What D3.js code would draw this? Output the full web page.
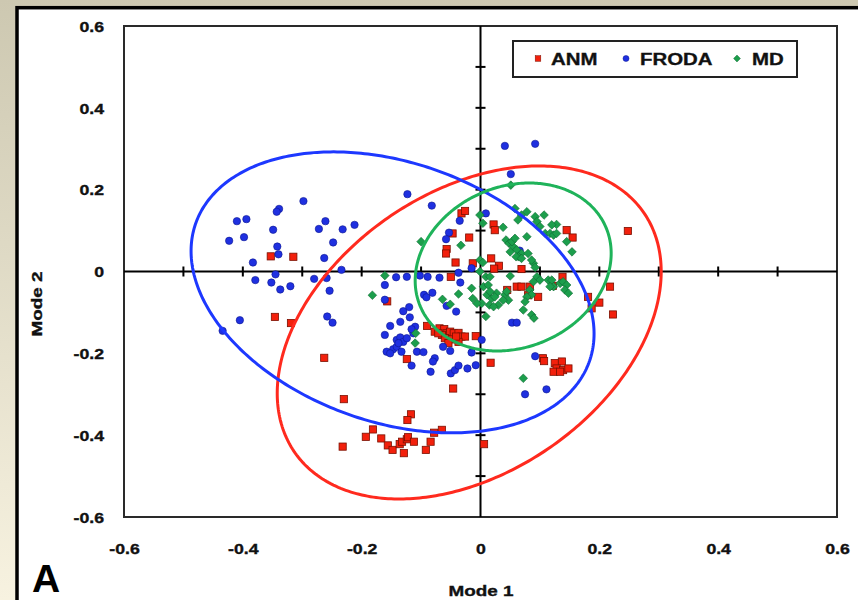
<!DOCTYPE html>
<html>
<head>
<meta charset="utf-8">
<script src="https://cdn.jsdelivr.net/npm/d3@7"></script>
<style>
  html, body { margin: 0; padding: 0; background: #fff; }
  svg { display: block; }
</style>
</head>
<body>
<svg id="chart" width="858" height="600"></svg>
<script>
// ---- data ----------------------------------------------------------------
const seriesNames = ["ANM", "FRODA", "MD"];

// Mode 1 / Mode 2 scores per sample
const anm = [
  [-0.353,0.037],[-0.315,0.036],[-0.346,-0.111],[-0.319,-0.126],[-0.263,-0.211],[-0.124,-0.214],[-0.157,-0.073],[-0.032,0.142],[-0.026,0.148],[0.022,0.115],
  [0.024,0.101],[-0.047,0.093],[-0.019,0.083],[-0.057,0.055],[-0.058,0.044],[-0.042,0.022],[-0.013,0.020],[0.018,0.032],[0.031,0.014],[0.023,0.007],
  [-0.050,-0.013],[0.069,0.006],[0.045,-0.045],[0.061,-0.037],[0.069,-0.037],[0.080,-0.058],[0.097,-0.062],[0.122,-0.035],[0.138,-0.013],[0.145,0.101],
  [0.155,0.083],[0.248,0.099],[0.218,-0.037],[0.181,-0.062],[0.200,-0.076],[0.187,-0.090],[0.223,-0.105],[-0.090,-0.133],[-0.077,-0.147],[-0.069,-0.139],
  [-0.061,-0.141],[-0.057,-0.151],[-0.051,-0.147],[-0.045,-0.151],[-0.037,-0.150],[-0.032,-0.159],[-0.026,-0.159],[-0.065,-0.155],[-0.060,-0.163],[-0.048,-0.166],
  [-0.037,-0.172],[-0.071,-0.151],[-0.054,-0.175],[-0.041,-0.159],[-0.008,-0.158],[0.017,-0.223],[-0.046,-0.286],[0.105,-0.212],[0.107,-0.219],[0.125,-0.224],
  [0.137,-0.220],[0.128,-0.237],[0.139,-0.241],[0.148,-0.237],[0.123,-0.245],[0.134,-0.245],[-0.230,-0.312],[-0.117,-0.349],[-0.123,-0.363],[-0.181,-0.386],
  [-0.193,-0.404],[-0.232,-0.428],[-0.167,-0.408],[-0.156,-0.425],[-0.148,-0.436],[-0.136,-0.422],[-0.132,-0.416],[-0.124,-0.410],[-0.122,-0.405],[-0.112,-0.416],
  [-0.129,-0.444],[-0.084,-0.416],[-0.092,-0.436],[-0.078,-0.394],[-0.065,-0.387],[0.006,-0.422],[0.083,-0.037]
];

const froda = [
  [-0.123,0.189],[-0.298,0.172],[-0.339,0.153],[-0.343,0.146],[-0.410,0.123],[-0.394,0.128],[-0.261,0.123],[-0.272,0.104],[-0.232,0.103],[-0.212,0.114],
  [-0.349,0.102],[-0.423,0.075],[-0.398,0.084],[-0.248,0.071],[-0.342,0.061],[-0.340,0.042],[-0.263,0.033],[-0.383,0.022],[-0.234,0.004],[-0.345,-0.007],
  [-0.379,-0.021],[-0.352,-0.027],[-0.280,-0.018],[-0.259,-0.016],[-0.337,-0.044],[-0.320,-0.036],[-0.254,-0.047],[-0.405,-0.119],[-0.434,-0.145],[-0.258,-0.110],
  [-0.249,-0.125],[-0.161,-0.033],[-0.142,-0.014],[-0.124,-0.013],[-0.102,-0.010],[-0.089,-0.013],[-0.069,-0.015],[-0.161,-0.069],[-0.130,-0.097],[-0.120,-0.087],
  [-0.082,0.161],[-0.035,0.124],[0.009,0.142],[-0.053,0.095],[-0.058,0.079],[-0.015,0.008],[-0.037,-0.003],[-0.034,-0.027],[-0.095,-0.057],[-0.081,-0.052],
  [-0.091,-0.063],[-0.057,-0.084],[-0.041,-0.098],[-0.119,-0.112],[-0.152,-0.133],[-0.110,-0.135],[-0.161,-0.155],[-0.141,-0.167],[-0.135,-0.161],[-0.130,-0.172],
  [-0.124,-0.163],[-0.113,-0.151],[-0.116,-0.141],[-0.158,-0.196],[-0.147,-0.190],[-0.152,-0.200],[-0.141,-0.184],[-0.133,-0.196],[-0.138,-0.175],[-0.107,-0.196],
  [-0.096,-0.197],[-0.116,-0.230],[-0.077,-0.212],[-0.080,-0.220],[-0.063,-0.184],[-0.051,-0.194],[-0.084,-0.245],[-0.050,-0.249],[-0.043,-0.241],[-0.037,-0.230],
  [-0.022,-0.237],[-0.008,-0.229],[-0.015,-0.198],[0.002,-0.167],[0.053,-0.125],[0.061,-0.125],[0.092,-0.207],[0.075,-0.300],[0.111,-0.288],[0.041,0.307],
  [0.092,0.312],[0.051,0.238],[0.066,0.051],[-0.135,-0.123]
];

const md = [
  [-0.161,-0.010],[-0.182,-0.058],[-0.109,-0.151],[-0.110,-0.175],[-0.100,0.073],[0.051,0.211],[-0.001,0.138],[0.038,0.108],[-0.033,0.064],[0.004,0.118],
  [0.043,0.077],[0.048,0.069],[0.055,0.061],[0.061,0.053],[0.069,0.044],[0.064,0.036],[0.053,0.073],[0.058,0.081],[-0.001,0.028],[0.004,0.022],
  [-0.001,0.000],[0.009,-0.013],[0.016,-0.013],[0.050,-0.011],[-0.015,-0.041],[0.005,-0.037],[0.013,-0.033],[0.011,-0.057],[0.019,-0.066],[0.015,-0.082],
  [0.027,-0.053],[0.041,-0.057],[0.047,-0.070],[0.038,-0.070],[0.044,-0.049],[-0.013,-0.066],[-0.064,-0.068],[-0.051,-0.080],[0.002,-0.078],[0.030,-0.082],
  [0.078,0.146],[0.069,0.138],[0.092,0.134],[0.095,0.122],[0.100,0.110],[0.107,0.138],[0.128,0.115],[0.109,0.093],[0.117,0.093],[0.123,0.089],
  [0.128,0.093],[0.078,0.085],[0.145,0.073],[0.154,0.048],[0.080,0.044],[0.089,0.020],[0.092,0.010],[0.086,0.028],[0.095,-0.013],[0.100,-0.021],
  [0.089,-0.025],[0.114,-0.021],[0.120,-0.021],[0.123,-0.037],[0.134,-0.029],[0.139,-0.025],[0.145,-0.033],[0.142,-0.045],[0.148,-0.053],[0.117,-0.037],
  [0.083,-0.045],[0.086,-0.057],[0.078,-0.062],[0.009,-0.110],[0.072,-0.094],[0.086,-0.106],[0.090,-0.114],[0.075,-0.074],[0.072,-0.261],[0.058,0.154],
  [0.063,0.126],[0.120,0.114],[0.016,-0.049],[0.024,-0.062],[0.022,-0.086],[-0.037,-0.055],[-0.006,-0.078],[0.050,0.048],[0.060,0.036],[0.069,0.032]
];

// group ellipses (ANM, FRODA, MD): centre and covariance terms
const ellipseCx   = [-0.019, -0.148, 0.055];
const ellipseCy   = [-0.149, -0.051, 0.011];
const ellipseVarX = [0.1044, 0.1150, 0.0272];
const ellipseVarY = [0.1656, 0.1179, 0.04214];
const ellipseCov  = [0.04804, -0.03421, 0.005511];

const xTickValues = [-0.6, -0.4, -0.2, 0, 0.2, 0.4, 0.6];
const yTickValues = [-0.6, -0.4, -0.2, 0, 0.2, 0.4, 0.6];
const crossTickValues = [-0.5, -0.4, -0.3, -0.2, -0.1, 0.1, 0.2, 0.3, 0.4, 0.5];

// ---- drawing -------------------------------------------------------------
const W = 858, H = 600;
const svg = d3.select("#chart");
const FONT = "'Liberation Sans', Arial, Helvetica, sans-serif";
const WIDE = 1.22;   // horizontal stretch of the chart lettering

const colors = {
  ANM:   { fill: "#f2200c", stroke: "#7a1000", ring: "#ff2a1e" },
  FRODA: { fill: "#1f30e0", stroke: "#0b1690", ring: "#1d38ff" },
  MD:    { fill: "#1c9e4c", stroke: "#0e6a32", ring: "#1fb35a" }
};

const defs = svg.append("defs");
const bg = defs.append("linearGradient").attr("id", "bg")
  .attr("x1", 0).attr("y1", 0).attr("x2", 0).attr("y2", 1);
bg.append("stop").attr("offset", "0%").attr("stop-color", "#cdc8b1");
bg.append("stop").attr("offset", "100%").attr("stop-color", "#f7f2e0");

svg.append("rect").attr("width", W).attr("height", H).attr("fill", "url(#bg)");
svg.append("rect")
  .attr("x", 17).attr("y", 7.7).attr("width", W).attr("height", H)
  .attr("fill", "#fff").attr("stroke", "#000").attr("stroke-width", 3.5);

const x = d3.scaleLinear().domain([-0.6, 0.6]).range([124, 837]);
const y = d3.scaleLinear().domain([-0.6, 0.6]).range([517, 26]);

// plot frame
svg.append("rect")
  .attr("x", x(-0.6)).attr("y", y(0.6))
  .attr("width", x(0.6) - x(-0.6)).attr("height", y(-0.6) - y(0.6))
  .attr("fill", "none").attr("stroke", "#2a2a2a").attr("stroke-width", 2);

// heavy lettering: bold face plus a hairline outline
function heavy(sel, size) {
  sel.attr("fill", "#111").attr("stroke", "#111").attr("stroke-width", 0.35)
    .style("font-family", FONT).style("font-weight", "bold").style("font-size", size);
}

// tick labels
const fmt = d => d === 0 ? "0" : d.toFixed(1);

const gy = svg.append("g").attr("transform", "translate(104,0)")
  .call(d3.axisLeft(y).tickValues(yTickValues).tickSize(0).tickPadding(0).tickFormat(fmt));
gy.select(".domain").remove();
gy.selectAll("text")
  .attr("x", 0).attr("dy", "0.36em")
  .attr("transform", `scale(${WIDE},1)`)
  .call(heavy, "14.5px");

const gx = svg.append("g").attr("transform", "translate(0,549)")
  .call(d3.axisBottom(x).tickValues(xTickValues).tickSize(0).tickPadding(0).tickFormat(fmt));
gx.select(".domain").remove();
gx.selectAll("text")
  .attr("y", 0).attr("dy", "0.36em")
  .attr("transform", `scale(${WIDE},1)`)
  .call(heavy, "14.5px");

// axes through the origin with cross ticks
const axes = svg.append("g").attr("stroke", "#000").attr("stroke-width", 2);
axes.append("line").attr("x1", x(-0.6)).attr("x2", x(0.6)).attr("y1", y(0)).attr("y2", y(0));
axes.append("line").attr("x1", x(0)).attr("x2", x(0)).attr("y1", y(-0.6)).attr("y2", y(0.6));
axes.selectAll(".xt").data(crossTickValues).join("line")
  .attr("x1", d => x(d)).attr("x2", d => x(d))
  .attr("y1", y(0) - 5).attr("y2", y(0) + 5);
axes.selectAll(".yt").data(crossTickValues).join("line")
  .attr("y1", d => y(d)).attr("y2", d => y(d))
  .attr("x1", x(0) - 5).attr("x2", x(0) + 5);

// markers
const diamond = r => `M0,${-r}L${r},0L0,${r}L${-r},0Z`;
function drawSeries(name, pts) {
  const c = colors[name];
  const g = svg.append("g").attr("class", "series-" + name);
  if (name === "ANM") {
    g.selectAll("rect").data(pts).join("rect")
      .attr("x", d => x(d[0]) - 3.6).attr("y", d => y(d[1]) - 3.6)
      .attr("width", 7.2).attr("height", 7.2)
      .attr("fill", c.fill).attr("stroke", c.stroke).attr("stroke-width", 0.8);
  } else if (name === "FRODA") {
    g.selectAll("circle").data(pts).join("circle")
      .attr("cx", d => x(d[0])).attr("cy", d => y(d[1])).attr("r", 3.7)
      .attr("fill", c.fill).attr("stroke", c.stroke).attr("stroke-width", 0.6);
  } else {
    g.selectAll("path").data(pts).join("path")
      .attr("transform", d => `translate(${x(d[0])},${y(d[1])})`)
      .attr("d", diamond(4.3))
      .attr("fill", c.fill).attr("stroke", c.stroke).attr("stroke-width", 0.6);
  }
}
drawSeries("ANM", anm);
drawSeries("FRODA", froda);
drawSeries("MD", md);

// group ellipses from centre + covariance (Cholesky of the 2x2 matrix)
const ellipseLine = d3.line().x(p => x(p[0])).y(p => y(p[1])).curve(d3.curveLinearClosed);
seriesNames.forEach((name, i) => {
  const l11 = Math.sqrt(ellipseVarX[i]);
  const l21 = ellipseCov[i] / l11;
  const l22 = Math.sqrt(ellipseVarY[i] - l21 * l21);
  const pts = d3.range(0, 360, 1).map(deg => {
    const t = deg * Math.PI / 180;
    return [ellipseCx[i] + l11 * Math.cos(t), ellipseCy[i] + l21 * Math.cos(t) + l22 * Math.sin(t)];
  });
  svg.append("path").attr("d", ellipseLine(pts))
    .attr("fill", "none").attr("stroke", colors[name].ring).attr("stroke-width", 3);
});

// legend
const lg = svg.append("g");
lg.append("rect").attr("x", 513).attr("y", 41).attr("width", 284).attr("height", 36)
  .attr("fill", "#fff").attr("stroke", "#222").attr("stroke-width", 2);
const legendItems = [
  { name: "ANM",   mx: 538, tx: 551 },
  { name: "FRODA", mx: 626, tx: 640 },
  { name: "MD",    mx: 737, tx: 752 }
];
legendItems.forEach(it => {
  const c = colors[it.name];
  if (it.name === "ANM") {
    lg.append("rect").attr("x", it.mx - 2.8).attr("y", 58.5 - 2.8).attr("width", 5.6).attr("height", 5.6)
      .attr("fill", c.fill).attr("stroke", c.stroke).attr("stroke-width", 0.5);
  } else if (it.name === "FRODA") {
    lg.append("circle").attr("cx", it.mx).attr("cy", 58.5).attr("r", 3)
      .attr("fill", c.fill).attr("stroke", c.stroke).attr("stroke-width", 0.5);
  } else {
    lg.append("path").attr("transform", `translate(${it.mx},58.5)`).attr("d", diamond(3.4))
      .attr("fill", c.fill).attr("stroke", c.stroke).attr("stroke-width", 0.5);
  }
  lg.append("text")
    .attr("transform", `translate(${it.tx},64.6) scale(${WIDE - 0.02},1)`)
    .call(heavy, "17px")
    .text(it.name);
});

// axis titles and panel letter
svg.append("text")
  .attr("transform", `translate(481,596) scale(${WIDE},1)`)
  .attr("text-anchor", "middle")
  .call(heavy, "15.5px")
  .text("Mode 1");
svg.append("text")
  .attr("transform", `translate(42,304) rotate(-90) scale(${WIDE},1)`)
  .attr("text-anchor", "middle")
  .call(heavy, "15.5px")
  .text("Mode 2");
svg.append("text")
  .attr("x", 32).attr("y", 592).attr("fill", "#000")
  .style("font-family", FONT).style("font-weight", "bold").style("font-size", "39px")
  .text("A");
</script>
</body>
</html>
